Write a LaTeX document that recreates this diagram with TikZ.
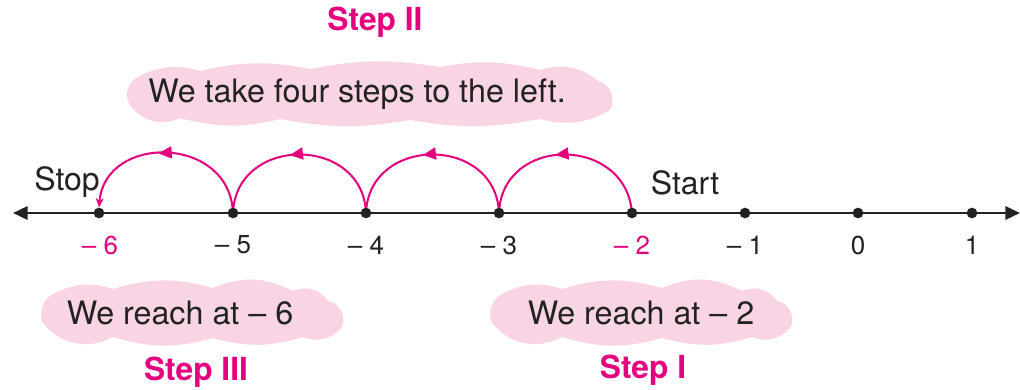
\documentclass[tikz,border=0pt]{standalone}
\usepackage{fontspec}
\setmainfont{TeX Gyre Heros}
\usetikzlibrary{arrows.meta,decorations.markings}
\definecolor{pk}{HTML}{E5007D}
\definecolor{cl}{HTML}{F8D4E4}
\definecolor{ink}{HTML}{222222}
\pgfdeclarelayer{clouds}
\pgfdeclarelayer{bg}
\pgfsetlayers{clouds,bg,main}
\begin{document}
\begin{tikzpicture}[x=0.75pt,y=-0.75pt,
  dot/.style={circle,fill=ink,inner sep=0pt,minimum size=8pt},
  num/.style={font=\fontsize{19.5}{21}\selectfont,text=ink},
  numpk/.style={font=\fontsize{19.5}{21}\selectfont,text=pk},
  lbl/.style={font=\fontsize{24}{26}\selectfont,text=ink},
  steplbl/.style={font=\fontsize{23.8}{26}\selectfont\bfseries,text=pk},
  blobtext/.style={font=\fontsize{24.2}{26}\selectfont,text=ink,inner sep=0pt},
  blobfill/.style={fill=cl},
  hop/.style={draw=pk,line width=1.5pt,postaction={decorate},
    decoration={markings,mark=at position 0.55 with {\arrow[pk]{Triangle[length=10pt,width=9pt]}}}},
  axis/.style={draw=ink,line width=1.8pt,{Triangle[length=11pt,width=10pt]}-{Triangle[length=11pt,width=10pt]}}]
\useasboundingbox (0,0) rectangle (1020,389);

% cloud texts
\node[blobtext] (c2) at (357,94) {We take four steps to the left.};
\node[blobtext] (c3) at (180,313) {We reach at -- 6};
\node[blobtext] (c1) at (641,313) {We reach at -- 2};

% cloud shapes
\begin{pgfonlayer}{clouds}
\begin{scope}[shift={(370,95)}]
\fill[blobfill] (-240,10) to[bend left=50] (-232,-18) to[bend left=22] (-170,-24)
  to[bend left=12] (-60,-26) to[bend left=10] (70,-28) to[bend left=12] (170,-25)
  to[bend left=28] (228,-14) to[bend left=55] (240,15) to[bend left=22] (170,24)
  to[bend left=10] (40,25) to[bend left=10] (-90,24) to[bend left=14] (-190,23)
  to[bend left=40] (-240,10) -- cycle;
\end{scope}
\begin{scope}[shift={(193,313)}]
\fill[blobfill] (-150,10) to[bend left=45] (-138,-20) to[bend left=22] (-80,-24)
  to[bend left=16] (20,-25) to[bend left=25] (100,-22) to[bend left=40] (135,-12)
  to[bend left=60] (148,15) to[bend left=35] (110,24) to[bend left=16] (20,25)
  to[bend left=16] (-80,24) to[bend left=40] (-150,10) -- cycle;
\end{scope}
\begin{scope}[shift={(642,313)}]
\fill[blobfill] (-150,10) to[bend left=45] (-138,-20) to[bend left=22] (-80,-24)
  to[bend left=16] (20,-25) to[bend left=25] (100,-22) to[bend left=40] (135,-12)
  to[bend left=60] (148,15) to[bend left=35] (110,24) to[bend left=16] (20,25)
  to[bend left=16] (-80,24) to[bend left=40] (-150,10) -- cycle;
\end{scope}
\end{pgfonlayer}

% step labels
\node[steplbl] (s2) at (375,22) {Step II};
\node[steplbl] (s3) at (196,372) {Step III};
\node[steplbl] (s1) at (643,370) {Step I};

% axis ends
\coordinate (lend) at (13,213);
\coordinate (rend) at (1020,213);

% dots
\node[dot] (d6) at (99,213) {};
\node[dot] (d5) at (233,213) {};
\node[dot] (d4) at (366,213) {};
\node[dot] (d3) at (499,213) {};
\node[dot] (d2) at (632,213) {};
\node[dot] (d1) at (745,213) {};
\node[dot] (d0) at (858,213) {};
\node[dot] (dp1) at (972,213) {};

\begin{pgfonlayer}{bg}
\draw[axis] (lend) -- (rend);
\draw[hop] (d2.center) .. controls +(-6,-78) and +(3,-78) .. (d3.center);
\draw[hop] (d3.center) .. controls +(-3,-78) and +(3,-78) .. (d4.center);
\draw[hop] (d4.center) .. controls +(-3,-78) and +(3,-78) .. (d5.center);
\draw[hop,-{Stealth[length=7pt,width=6pt]}] (d5.center) .. controls +(-3,-78) and +(6,-74) .. (d6.north);
\end{pgfonlayer}

% number labels
\node[numpk] (l6) at (100,245) {-- 6};
\node[num] (l5) at (233,245) {-- 5};
\node[num] (l4) at (366,245) {-- 4};
\node[num] (l3) at (499,245) {-- 3};
\node[numpk] (l2) at (632,245) {-- 2};
\node[num] (l1) at (745,245) {-- 1};
\node[num] (l0) at (858,245) {0};
\node[num] (lp1) at (972,245) {1};

\node[lbl] (stop) at (67,182) {Stop};
\node[lbl] (start) at (685,183) {Start};
\end{tikzpicture}
\end{document}
